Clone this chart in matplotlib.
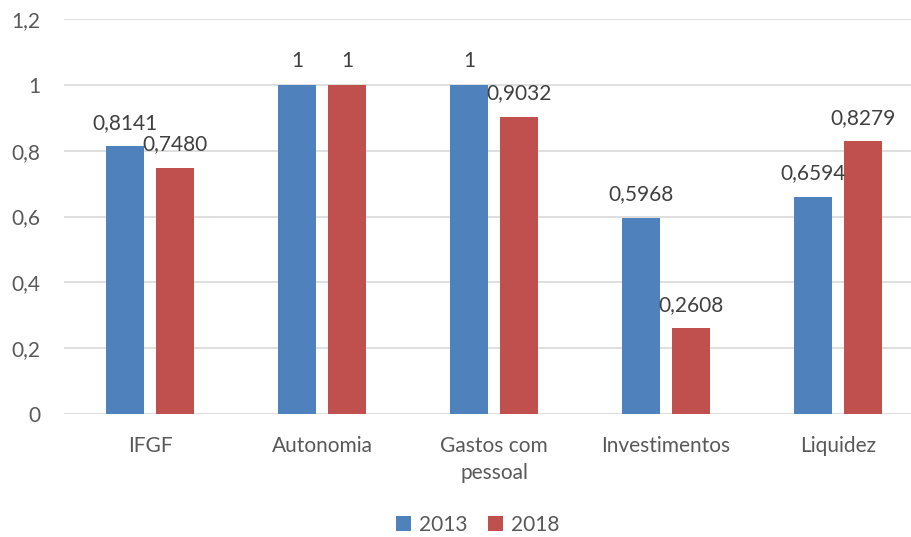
import matplotlib.pyplot as plt
import numpy as np

plt.rcParams['font.family'] = ['Lato', 'DejaVu Sans']

categorias = ['IFGF', 'Autonomia', 'Gastos com\npessoal', 'Investimentos', 'Liquidez']
v2013 = [0.8141, 1, 1, 0.5968, 0.6594]
v2018 = [0.7480, 1, 0.9032, 0.2608, 0.8279]
rot2013 = ['0,8141', '1', '1', '0,5968', '0,6594']
rot2018 = ['0,7480', '1', '0,9032', '0,2608', '0,8279']

fig = plt.figure(figsize=(9.11, 5.37), dpi=100)
ax = fig.add_axes([64 / 911, 1 - 414 / 537, 860 / 911, 395 / 537])

x = np.arange(len(categorias))
w = 0.225
b1 = ax.bar(x - 0.145, v2013, w, color='#4f81bd', label='2013', zorder=3)
b2 = ax.bar(x + 0.145, v2018, w, color='#c0504d', label='2018', zorder=3)

for barras, rot in ((b1, rot2013), (b2, rot2018)):
    for b, r in zip(barras, rot):
        ax.annotate(r, (b.get_x() + b.get_width() / 2, b.get_height()),
                    xytext=(0, 12.5), textcoords='offset points',
                    ha='center', va='baseline', fontsize=15, color='#404040')

ax.set_xlim(-0.5, len(categorias) - 0.5)
ax.set_ylim(0, 1.2)
ax.set_yticks([0, 0.2, 0.4, 0.6, 0.8, 1, 1.2])
ax.set_yticklabels(['0', '0,2', '0,4', '0,6', '0,8', '1', '1,2'])
ax.set_xticks(x)
ax.set_xticklabels(categorias, linespacing=1.4)
ax.tick_params(axis='both', length=0, labelsize=15, labelcolor='#595959')
ax.tick_params(axis='x', pad=16)
ax.tick_params(axis='y', pad=17)
ax.grid(axis='y', color='#d9d9d9', linewidth=1.2, zorder=0)
for s in ax.spines.values():
    s.set_visible(False)

ax.legend(loc='center', bbox_to_anchor=(478 / 860 - 64 / 860, -111 / 395), ncol=2, frameon=False,
          fontsize=15, labelcolor='#595959', handlelength=0.7, handleheight=0.7,
          columnspacing=1.0, handletextpad=0.4)

fig.savefig('out.png', dpi=100)
